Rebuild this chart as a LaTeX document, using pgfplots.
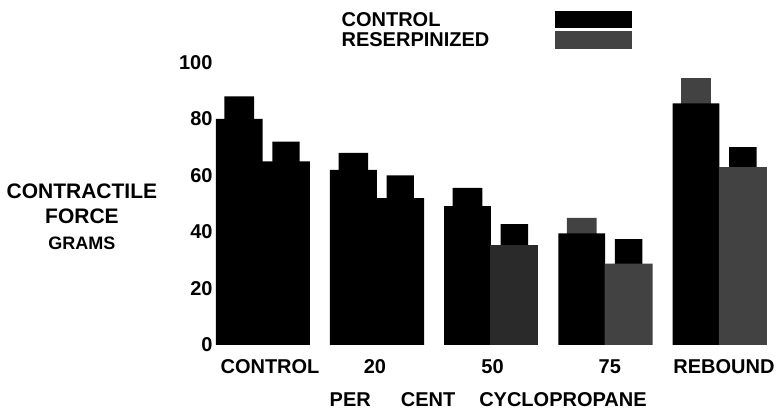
\documentclass[border=0pt]{standalone}
\usepackage{fontspec}
\setmainfont{Liberation Sans}
\usepackage{pgfplots}
\pgfplotsset{compat=1.18}
\definecolor{resgray}{HTML}{424242}
\definecolor{midgray}{HTML}{2A2A2A}
\begin{document}
\begin{tikzpicture}
\path[use as bounding box] (-211.2pt,-69pt) rectangle (564.8pt,345pt);
\begin{axis}[
  scale only axis,
  width=559.6pt, height=282.5pt,
  xmin=-0.45, xmax=4.45,
  ymin=0, ymax=100,
  axis line style={draw=none},
  tick style={draw=none},
  xtick={0.065,0.984,2.014,3.04,4.04},
  xticklabels={CONTROL,20,50,75,REBOUND},
  ytick={0,20,40,60,80,100},
  /pgf/number format/assume math mode=true,
  tick label style={font=\bfseries\fontsize{20}{24}\selectfont},
  xticklabel style={anchor=base, yshift=-29pt},
  yticklabel style={anchor=east, inner sep=0pt, xshift=1.5pt},
  every axis x label/.style={at={(axis description cs:0.495,-0.195)}, anchor=center},
  xlabel={\bfseries\fontsize{20}{24}\selectfont PER\hspace{30pt}CENT\hspace{24pt}CYCLOPROPANE},
  every axis y label/.style={at={(axis description cs:-0.231,0.455)}, anchor=center, align=center,
    font=\bfseries\fontsize{21}{25.5}\selectfont},
  ylabel={CONTRACTILE\\FORCE\\{\fontsize{18}{22}\selectfont GRAMS}},
  legend plot pos=right,
  legend cell align=left,
  legend style={draw=none, fill=none, inner sep=0pt,
    at={(0.230,1.186)}, anchor=north west,
    font=\bfseries\fontsize{20}{24}\selectfont,
    nodes={text height=14.5pt, text depth=0pt, inner sep=1.5pt},
    row sep=3pt,
    /tikz/every odd column/.append style={column sep=64pt}},
]
% legend
\addlegendimage{legend image code/.code={\fill[black] (0pt,-8pt) rectangle (76pt,8pt);}}
\addlegendentry{CONTROL}
\addlegendimage{legend image code/.code={\fill[resgray] (0pt,-8.5pt) rectangle (76pt,8.5pt);}}
\addlegendentry{RESERPINIZED}
% left narrow bars (behind)
\addplot[ybar, forget plot, fill=black, draw=none, bar width=0.26, bar shift=-0.205]
  coordinates {(0,88) (1,68) (2,55.6)};
\addplot[ybar, forget plot, fill=resgray, draw=none, bar width=0.26, bar shift=-0.205]
  coordinates {(3,45) (4,94.5)};
% left wide bars
\addplot[ybar, forget plot, fill=black, draw=none, bar width=0.41, bar shift=-0.205]
  coordinates {(0,80) (1,62) (2,49.2) (3,39.5) (4,85.5)};
% right narrow bars (behind)
\addplot[ybar, forget plot, fill=black, draw=none, bar width=0.24, bar shift=0.205]
  coordinates {(0,72) (1,60) (2,42.8) (3,37.5) (4,70)};
% right wide bars
\addplot[ybar, forget plot, fill=black, draw=none, bar width=0.42, bar shift=0.205]
  coordinates {(0,65) (1,52)};
\addplot[ybar, forget plot, fill=midgray, draw=none, bar width=0.42, bar shift=0.205]
  coordinates {(2,35.4)};
\addplot[ybar, forget plot, fill=resgray, draw=none, bar width=0.42, bar shift=0.205]
  coordinates {(3,28.8) (4,63)};
\end{axis}
\end{tikzpicture}
\end{document}
